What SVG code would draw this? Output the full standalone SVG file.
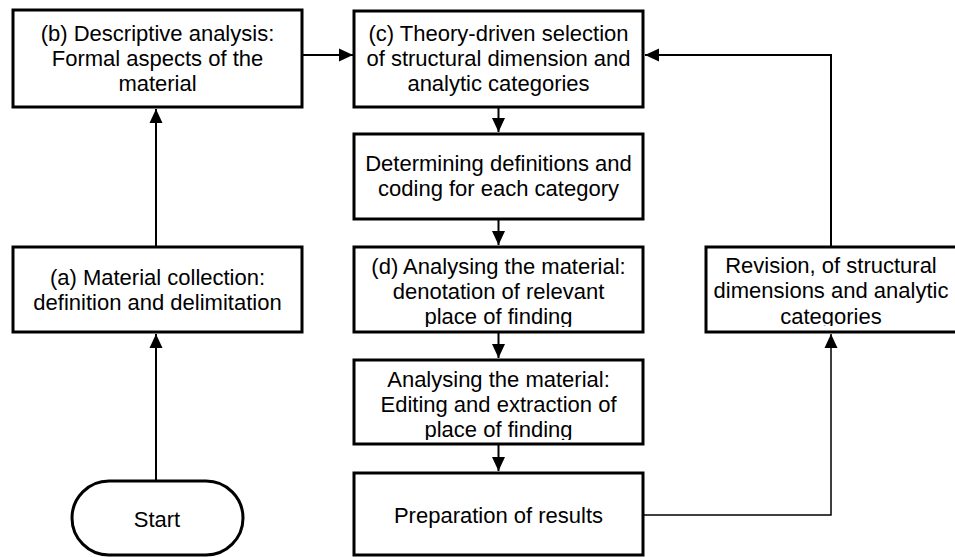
<svg xmlns="http://www.w3.org/2000/svg" width="955" height="557" viewBox="0 0 955 557">
<style>
.box{fill:#fff;stroke:#000;stroke-width:3}
.t{font-family:"Liberation Sans",Arial,sans-serif;font-size:22px;fill:#000;text-anchor:middle}
.c{fill:none;stroke:#000;stroke-width:2}
.c1{fill:none;stroke:#000;stroke-width:1.5}
</style>
<defs>
<marker id="ah" markerUnits="userSpaceOnUse" markerWidth="14" markerHeight="14" refX="14" refY="6.5" orient="auto" viewBox="0 0 14 13">
<path d="M0,0 L14,6.5 L0,13 z" fill="#000"/>
</marker>
<clipPath id="clipD"><rect x="354" y="247" width="289" height="80"/></clipPath>
<clipPath id="clipE"><rect x="354" y="360" width="289" height="80"/></clipPath>
<clipPath id="clipR"><rect x="706" y="247" width="260" height="79"/></clipPath>
</defs>
<rect width="955" height="557" fill="#fff"/>
<g id="connectors">
<line class="c" x1="302" y1="55" x2="353" y2="55" marker-end="url(#ah)"/>
<polyline class="c" points="831,247 831,55 645,55" marker-end="url(#ah)"/>
<line class="c" x1="156" y1="247" x2="156" y2="109" marker-end="url(#ah)"/>
<line class="c" x1="156" y1="481" x2="156" y2="334" marker-end="url(#ah)"/>
<line class="c" x1="498.5" y1="107" x2="498.5" y2="132" marker-end="url(#ah)"/>
<line class="c" x1="498.5" y1="219" x2="498.5" y2="245" marker-end="url(#ah)"/>
<line class="c" x1="498.5" y1="332" x2="498.5" y2="358" marker-end="url(#ah)"/>
<line class="c" x1="498.5" y1="444" x2="498.5" y2="471" marker-end="url(#ah)"/>
<polyline class="c1" points="643,515 831,515 831,334" marker-end="url(#ah)"/>
</g>
<g id="nodeB">
<rect class="box" x="13" y="10" width="289" height="97"/>
<text class="t" x="157.5" y="41">(b) Descriptive analysis:</text>
<text class="t" x="157.5" y="66">Formal aspects of the</text>
<text class="t" x="157.5" y="91">material</text>
</g>
<g id="nodeC">
<rect class="box" x="354" y="11" width="289" height="96"/>
<text class="t" x="498.5" y="41">(c) Theory-driven selection</text>
<text class="t" x="498.5" y="66">of structural dimension and</text>
<text class="t" x="498.5" y="91">analytic categories</text>
</g>
<g id="nodeDef">
<rect class="box" x="354" y="134" width="289" height="85"/>
<text class="t" x="498.5" y="171">Determining definitions and</text>
<text class="t" x="498.5" y="196">coding for each category</text>
</g>
<g id="nodeA">
<rect class="box" x="13" y="247" width="289" height="85"/>
<text class="t" x="157.5" y="285">(a) Material collection:</text>
<text class="t" x="157.5" y="310">definition and delimitation</text>
</g>
<g id="nodeD">
<rect class="box" x="354" y="247" width="289" height="85"/>
<g clip-path="url(#clipD)">
<text class="t" x="498.5" y="274">(d) Analysing the material:</text>
<text class="t" x="498.5" y="299">denotation of relevant</text>
<text class="t" x="498.5" y="324">place of finding</text>
</g>
</g>
<g id="nodeRev">
<rect class="box" x="706" y="247" width="260" height="85"/>
<g clip-path="url(#clipR)">
<text class="t" x="831" y="273">Revision, of structural</text>
<text class="t" x="831" y="298">dimensions and analytic</text>
<text class="t" x="831" y="324">categories</text>
</g>
</g>
<g id="nodeE">
<rect class="box" x="354" y="360" width="289" height="84"/>
<g clip-path="url(#clipE)">
<text class="t" x="498.5" y="387">Analysing the material:</text>
<text class="t" x="498.5" y="412">Editing and extraction of</text>
<text class="t" x="498.5" y="437">place of finding</text>
</g>
</g>
<g id="nodePrep">
<rect class="box" x="354" y="473" width="289" height="82"/>
<text class="t" x="498.5" y="523">Preparation of results</text>
</g>
<g id="nodeStart">
<rect class="box" x="72" y="481" width="171" height="74" rx="37" ry="37"/>
<text class="t" x="157" y="527">Start</text>
</g>
</svg>
